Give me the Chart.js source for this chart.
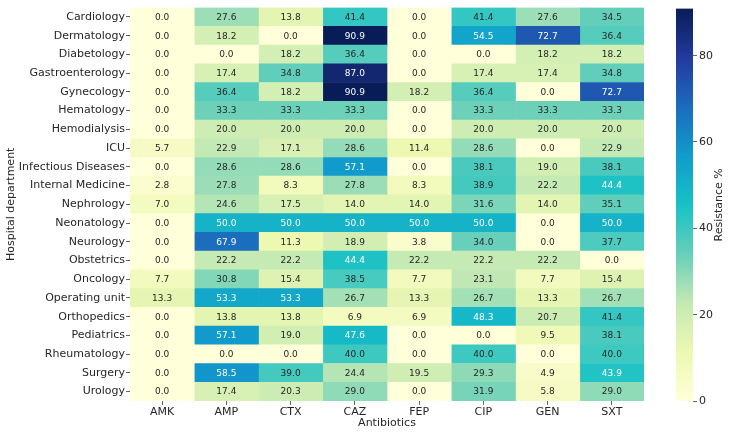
<!DOCTYPE html>
<html>
<head>
<meta charset="utf-8">
<script src="https://cdn.jsdelivr.net/npm/chart.js@4.4.1/dist/chart.umd.min.js"></script>
<style>
  body { margin: 0; background: #fff; }
  #wrap { position: relative; width: 731px; height: 433px; }
  canvas { position: absolute; left: 0; top: 0; }
</style>
</head>
<body>
<div id="wrap">
  <canvas id="heat" width="731" height="433"></canvas>
  <canvas id="cbar" width="731" height="433"></canvas>
</div>
<script>
const departments = ["Cardiology", "Dermatology", "Diabetology", "Gastroenterology", "Gynecology",
    "Hematology", "Hemodialysis", "ICU", "Infectious Diseases", "Internal Medicine", "Nephrology",
    "Neonatology", "Neurology", "Obstetrics", "Oncology", "Operating unit", "Orthopedics",
    "Pediatrics", "Rheumatology", "Surgery", "Urology"];
const antibiotics = ["AMK", "AMP", "CTX", "CAZ", "FEP", "CIP", "GEN", "SXT"];

// resistance % per antibiotic, one value per department (same order)
const AMK = [0.0, 0.0, 0.0, 0.0, 0.0, 0.0, 0.0, 5.7, 0.0, 2.8, 7.0, 0.0, 0.0, 0.0, 7.7, 13.3, 0.0, 0.0, 0.0, 0.0, 0.0];
const AMP = [27.6, 18.2, 0.0, 17.4, 36.4, 33.3, 20.0, 22.9, 28.6, 27.8, 24.6, 50.0, 67.9, 22.2, 30.8, 53.3, 13.8, 57.1, 0.0, 58.5, 17.4];
const CTX = [13.8, 0.0, 18.2, 34.8, 18.2, 33.3, 20.0, 17.1, 28.6, 8.3, 17.5, 50.0, 11.3, 22.2, 15.4, 53.3, 13.8, 19.0, 0.0, 39.0, 20.3];
const CAZ = [41.4, 90.9, 36.4, 87.0, 90.9, 33.3, 20.0, 28.6, 57.1, 27.8, 14.0, 50.0, 18.9, 44.4, 38.5, 26.7, 6.9, 47.6, 40.0, 24.4, 29.0];
const FEP = [0.0, 0.0, 0.0, 0.0, 18.2, 0.0, 0.0, 11.4, 0.0, 8.3, 14.0, 50.0, 3.8, 22.2, 7.7, 13.3, 6.9, 0.0, 0.0, 19.5, 0.0];
const CIP = [41.4, 54.5, 0.0, 17.4, 36.4, 33.3, 20.0, 28.6, 38.1, 38.9, 31.6, 50.0, 34.0, 22.2, 23.1, 26.7, 48.3, 0.0, 40.0, 29.3, 31.9];
const GEN = [27.6, 72.7, 18.2, 17.4, 0.0, 33.3, 20.0, 0.0, 19.0, 22.2, 14.0, 0.0, 0.0, 22.2, 7.7, 13.3, 20.7, 9.5, 0.0, 4.9, 5.8];
const SXT = [34.5, 36.4, 18.2, 34.8, 72.7, 33.3, 20.0, 22.9, 38.1, 44.4, 35.1, 50.0, 37.7, 0.0, 15.4, 26.7, 41.4, 38.1, 40.0, 43.9, 29.0];
const columns = [AMK, AMP, CTX, CAZ, FEP, CIP, GEN, SXT];

const colorbarTicks = [0, 20, 40, 60, 80];
const vmin = 0;
const vmax = Math.max(...columns.flat());

// YlGnBu as it looks in the picture (a bit more saturated than the stock one)
const palette = ["#ffffd9", "#edf8b1", "#c4e9b4", "#66cfba", "#17c1c6", "#119ccc", "#1b6cbd", "#243a9e", "#081d58"];
// stock YlGnBu, only used to pick the text colour like seaborn does
const ylgnbu = ["#ffffd9", "#edf8b1", "#c7e9b4", "#7fcdbb", "#41b6c4", "#1d91c0", "#225ea8", "#253494", "#081d58"];

Chart.defaults.font.family = "'DejaVu Sans', sans-serif";
Chart.defaults.color = "#262626";

function hexRgb(h){
    return [parseInt(h.slice(1, 3), 16), parseInt(h.slice(3, 5), 16), parseInt(h.slice(5, 7), 16)];
}

function cmapRgb(v, stops){
    let t = (v - vmin) / (vmax - vmin);
    t = Math.min(1, Math.max(0, t)) * (stops.length - 1);
    let k = Math.min(Math.floor(t), stops.length - 2);
    let f = t - k;
    let a = hexRgb(stops[k]), b = hexRgb(stops[k + 1]);
    return a.map((c, n) => Math.round(c + (b[n] - c) * f));
}

function cmap(v){
    let c = cmapRgb(v, palette);
    return "rgb(" + c[0] + "," + c[1] + "," + c[2] + ")";
}

// light text on dark cells
function textColor(v){
    let lin = cmapRgb(v, ylgnbu).map(c => {
        c = c / 255;
        return c <= 0.03928 ? c / 12.92 : Math.pow((c + 0.055) / 1.055, 2.4);
    });
    let lum = 0.2126 * lin[0] + 0.7152 * lin[1] + 0.0722 * lin[2];
    return lum > 0.408 ? "#262626" : "#ffffff";
}

const cellLabels = {
    id: "cellLabels",
    afterDatasetsDraw(chart){
        let ctx = chart.ctx;
        ctx.save();
        ctx.font = "9px 'DejaVu Sans'";
        ctx.textAlign = "center";
        ctx.textBaseline = "middle";
        chart.data.datasets.forEach((ds, j) => {
            chart.getDatasetMeta(j).data.forEach((bar, i) => {
                let v = ds.values[i];
                let p = bar.getCenterPoint();
                ctx.fillStyle = textColor(v);
                ctx.fillText(v.toFixed(1), p.x, p.y + 0.5);
            });
        });
        ctx.restore();
    }
};

//---- heatmap ----
var heat = new Chart(document.getElementById("heat"),
{
    type: "bar",
    data: {
        labels: departments,
        datasets: antibiotics.map((name, j) => ({
            label: name,
            values: columns[j],
            data: departments.map(() => [j, j + 1]),
            backgroundColor: columns[j].map(cmap),
            borderWidth: 0,
            borderSkipped: false,
            barPercentage: 1,
            categoryPercentage: 1,
            grouped: false
        }))
    },
    options: {
        responsive: false,
        animation: false,
        indexAxis: "y",
        layout: { padding: { left: 0, top: 7, right: 87, bottom: 0 } },
        plugins: { legend: { display: false }, tooltip: { enabled: false } },
        scales: {
            x: {
                type: "linear",
                min: 0,
                max: antibiotics.length,
                afterBuildTicks: s => { s.ticks = antibiotics.map((_, i) => ({ value: i + 0.5 })); },
                afterFit: s => { s.height = 32; },
                ticks: {
                    callback: v => antibiotics[Math.floor(v)],
                    autoSkip: false,
                    maxRotation: 0,
                    padding: 1,
                    font: { size: 11 }
                },
                grid: { drawOnChartArea: false, tickLength: 4, color: "#666" },
                border: { display: false },
                title: { display: true, text: "Antibiotics", font: { size: 11 }, padding: { top: 0, bottom: 3 } }
            },
            y: {
                type: "category",
                afterFit: s => { s.width = 130; },
                ticks: { autoSkip: false, padding: 1, font: { size: 11 } },
                grid: { offset: false, drawOnChartArea: false, tickLength: 4, color: "#666" },
                border: { display: false },
                title: { display: true, text: "Hospital department", font: { size: 11 }, padding: { top: 5, bottom: 0 } }
            }
        }
    },
    plugins: [cellLabels]
});

//---- colorbar ----
const cbarTitle = {
    id: "cbarTitle",
    afterDraw(chart){
        let ctx = chart.ctx;
        let a = chart.chartArea;
        ctx.save();
        ctx.font = "11px 'DejaVu Sans'";
        ctx.fillStyle = "#262626";
        ctx.textAlign = "center";
        ctx.textBaseline = "middle";
        ctx.translate(chart.scales.y.right - 12, (a.top + a.bottom) / 2);
        ctx.rotate(-Math.PI / 2);
        ctx.fillText("Resistance %", 0, 0);
        ctx.restore();
    }
};

var cbar = new Chart(document.getElementById("cbar"),
{
    type: "bar",
    data: {
        labels: [""],
        datasets: [{
            data: [[vmin, vmax]],
            backgroundColor: c => {
                let a = c.chart.chartArea;
                if (!a) return palette[0];
                let g = c.chart.ctx.createLinearGradient(0, a.bottom, 0, a.top);
                palette.forEach((col, k) => g.addColorStop(k / (palette.length - 1), col));
                return g;
            },
            borderWidth: 0,
            barPercentage: 1,
            categoryPercentage: 1
        }]
    },
    options: {
        responsive: false,
        animation: false,
        layout: { padding: { left: 676, top: 7, right: 0, bottom: 32 } },
        plugins: { legend: { display: false }, tooltip: { enabled: false } },
        scales: {
            x: { display: false },
            y: {
                position: "right",
                min: vmin,
                max: vmax,
                afterBuildTicks: s => { s.ticks = colorbarTicks.map(v => ({ value: v })); },
                afterFit: s => { s.width = 38; },
                ticks: { padding: 2, font: { size: 11 } },
                grid: { drawOnChartArea: false, tickLength: 4, color: "#666" },
                border: { display: false }
            }
        }
    },
    plugins: [cbarTitle]
});
</script>
</body>
</html>
